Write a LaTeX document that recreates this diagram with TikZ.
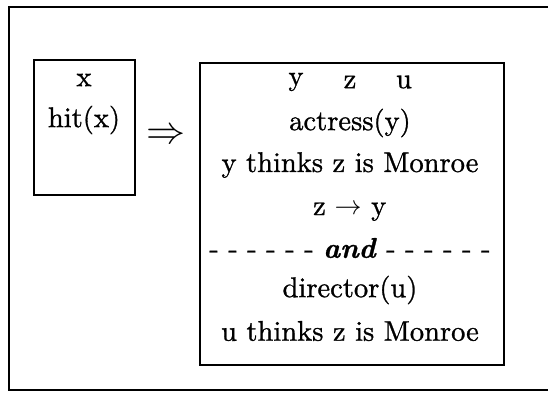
\documentclass[tikz,border=0pt]{standalone}
\usepackage{fontspec}
\setmainfont{lmroman10-regular.otf}[FakeBold=1.0,ItalicFont=lmroman10-italic.otf,BoldFont=lmroman10-bold.otf,BoldItalicFont=lmroman10-bolditalic.otf]
\begin{document}
\begin{tikzpicture}[x=1pt,y=-1pt,
  boxst/.style={draw,line width=1.8pt,inner sep=0pt,anchor=north west},
  txt/.style={inner sep=0pt,font=\fontsize{28.5}{34}\selectfont},
  frame/.style={line width=1.3pt}]
\useasboundingbox (0,0) rectangle (548,393);
\draw[frame] (549,7) -- (9,7) -- (9,390) -- (549,390);
\node[boxst,minimum width=101pt,minimum height=135pt] (L) at (33,59) {};
\node[boxst,minimum width=304pt,minimum height=302pt] (R) at (199,62) {};
\node[txt] (lx) at (84,80) {x};
\node[txt] (lhit) at (84,120) {hit(x)};
\node[inner sep=0pt,scale=3.9] (arr) at (166,136) {$\Rightarrow$};
\node[txt] (vy) at (296,82) {y};
\node[txt] (vz) at (350,82) {z};
\node[txt] (vu) at (404,82) {u};
\node[txt] (act) at (350,123) {actress(y)};
\node[txt] (yth) at (350,165) {y thinks z is Monroe};
\node[txt,anchor=base east] (zz) at (326,215) {z};
\node[inner sep=0pt,scale=2.7] (zar) at (348,210) {$\rightarrow$};
\node[txt,anchor=base west] (zyy) at (371,215) {y};
\node[txt] (and) at (350,248) {- - - - - - \textbf{\textit{and}} - - - - - -};
\node[txt] (dir) at (350,290) {director(u)};
\node[txt] (uth) at (350,331) {u thinks z is Monroe};
\end{tikzpicture}
\end{document}
